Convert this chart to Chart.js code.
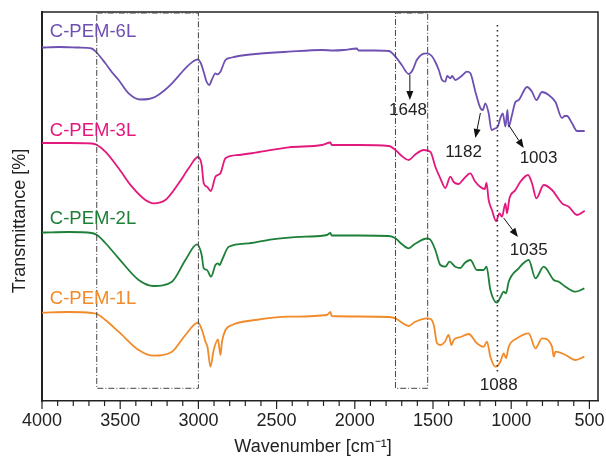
<!DOCTYPE html>
<html>
<head>
<meta charset="utf-8">
<script src="https://cdn.jsdelivr.net/npm/chart.js@4.4.1/dist/chart.umd.min.js"></script>
<style>
  html, body { margin: 0; padding: 0; background: #fff; }
</style>
</head>
<body>
<canvas id="chart" width="606" height="458"></canvas>
<script>
// FTIR spectra, transmittance in arbitrary units (curves offset vertically)
const seriesNames = ["C-PEM-6L", "C-PEM-3L", "C-PEM-2L", "C-PEM-1L"];
const seriesColors = ["#6d50b2", "#e2187c", "#1d7f38", "#f18a28"];

const wn6L = [4000, 3893, 3765, 3682, 3648, 3595, 3554, 3510, 3446, 3371, 3318, 3275, 3222, 3169, 3083, 3030, 3003, 2985, 2966, 2947, 2930, 2915, 2891, 2881, 2859, 2827, 2787, 2742, 2635, 2423, 2210, 2135, 2071, 1988, 1975, 1879, 1783, 1740, 1700, 1655, 1630, 1604, 1572, 1538, 1508, 1485, 1463, 1442, 1421, 1410, 1389, 1378, 1357, 1336, 1310, 1283, 1261, 1229, 1197, 1182, 1165, 1144, 1126, 1101, 1086, 1069, 1054, 1037, 1024, 1016, 995, 973, 952, 899, 867, 839, 803, 760, 717, 675, 658, 643, 611, 579, 530];
const t6L = [353.5, 354, 353.5, 352.5, 348, 337.7, 329, 321, 307.7, 301.5, 302, 304.3, 310, 317.7, 332.7, 340, 341.7, 338, 329, 319, 316, 321, 327.7, 326.7, 329.3, 341, 343.5, 345, 347, 349.3, 351, 350.5, 351, 352.5, 350.5, 350.5, 350, 344.3, 336, 327, 331, 341, 346.5, 347.7, 345, 339, 331, 321, 319.3, 325, 322.7, 325, 321, 322.7, 326, 329.3, 327.7, 309.3, 293, 291, 297.7, 287.7, 271, 272.7, 274.3, 283, 287.7, 274.3, 291, 274.3, 286, 299, 301, 314, 309.3, 301, 309, 306, 299, 283, 285, 285, 277.7, 270, 270];

const wn3L = [4000, 3829, 3682, 3648, 3595, 3510, 3425, 3339, 3286, 3211, 3126, 3062, 3003, 2979, 2966, 2945, 2921, 2891, 2877, 2859, 2827, 2742, 2635, 2423, 2210, 2156, 2148, 1975, 1783, 1740, 1700, 1655, 1617, 1559, 1517, 1485, 1453, 1421, 1389, 1368, 1336, 1310, 1261, 1233, 1197, 1169, 1158, 1144, 1123, 1097, 1075, 1059, 1037, 1027, 1011, 973, 941, 892, 867, 839, 792, 739, 675, 632, 579, 530];
const t3L = [258, 258, 257.5, 256, 249.3, 232.7, 214.3, 201, 197.7, 201, 217.7, 232.7, 244, 236, 217.7, 214.3, 210, 224.3, 226, 227.7, 242.7, 246, 248.3, 253.7, 256, 258.5, 256, 256, 255, 251, 245, 241, 246, 251, 249.3, 234.3, 222.7, 213, 224.3, 219, 217, 221, 227.7, 220, 214, 212, 218, 201, 191, 180, 187.7, 184.3, 197.7, 187.7, 202.7, 211, 219.3, 226, 217.7, 202.7, 216, 211, 197.7, 194.3, 186, 190.3];

const wn2L = [4000, 3829, 3682, 3648, 3595, 3510, 3382, 3286, 3169, 3083, 3009, 2979, 2966, 2945, 2919, 2891, 2875, 2864, 2849, 2806, 2678, 2529, 2316, 2178, 2156, 2148, 1975, 1783, 1740, 1700, 1655, 1617, 1538, 1515, 1485, 1453, 1421, 1395, 1357, 1325, 1297, 1261, 1219, 1176, 1158, 1133, 1091, 1069, 1048, 1033, 1016, 952, 888, 845, 792, 728, 696, 653, 589, 532];
const t2L = [168.5, 169, 168, 166, 158, 142.7, 121, 115, 119.3, 141, 156.7, 146, 132.7, 131, 124.3, 136, 137.7, 136, 141, 154.3, 157.7, 161.7, 164.3, 166, 168, 165.5, 165.5, 165, 162.7, 157, 152.7, 157, 162.5, 161, 151, 136, 134.3, 139.3, 134.3, 133, 138, 141, 131, 131, 134.3, 111, 98.3, 103.7, 109.3, 107.7, 119.3, 132.7, 141, 122.7, 134.3, 121, 119.3, 114.3, 109.3, 112.7];

const wn1L = [4000, 3829, 3682, 3648, 3595, 3510, 3382, 3286, 3169, 3083, 3003, 2977, 2955, 2942, 2923, 2902, 2875, 2859, 2849, 2827, 2785, 2635, 2423, 2178, 2156, 2148, 1975, 1783, 1740, 1700, 1655, 1617, 1538, 1515, 1495, 1474, 1453, 1425, 1400, 1382, 1368, 1323, 1272, 1219, 1176, 1155, 1133, 1101, 1069, 1048, 1033, 1016, 963, 888, 845, 803, 739, 728, 717, 653, 589, 532];
const t1L = [88.3, 89, 88, 87, 81, 69.3, 51, 45.3, 49.3, 66, 78.3, 71, 59.3, 54.3, 34.3, 51, 61.7, 46, 59.3, 71, 76, 81, 84.3, 86, 89, 85, 84.5, 84, 82.7, 78.5, 75, 79, 82.7, 82, 76, 57.7, 56, 59, 66, 56, 61, 64, 67, 57.7, 54.3, 59.3, 44.3, 34.3, 39.3, 47.7, 42.7, 54.3, 62.7, 67.7, 52.7, 62.7, 54.3, 44.3, 49.3, 46, 41, 44.3];

const xTicks = [4000, 3500, 3000, 2500, 2000, 1500, 1000, 500];

// where the series names sit
const nameWn = 3950;
const nameT = [369, 270, 182, 102];

// band annotations
const peakLabels = ["1648", "1182", "1003", "1035", "1088"];
const peakTextWn = [1660, 1304, 825, 888, 1080];
const peakTextT = [291, 249, 243, 151, 16];
const arrowFromWn = [1648, 1197, 1016, 1048];
const arrowFromT = [326, 288, 276, 183];
const arrowToWn = [1648, 1229, 920, 957];
const arrowToT = [301, 263, 253, 164];

const boxWn = [[3650, 3000], [1740, 1534]];
const boxT = [12.7, 388];
const dotWn = 1088;
const dotT = [29, 376];

const FONT = '"Liberation Sans", Arial, sans-serif';

function toPoints(xs, ys) {
  return xs.map((v, i) => ({ x: v, y: ys[i] }));
}

const datasets = [[wn6L, t6L], [wn3L, t3L], [wn2L, t2L], [wn1L, t1L]].map((d, i) => ({
  label: seriesNames[i],
  data: toPoints(d[0], d[1]),
  borderColor: seriesColors[i],
  borderWidth: 1.8,
  pointRadius: 0,
  cubicInterpolationMode: "monotone",
  fill: false,
}));

function drawArrow(ctx, x1, y1, x2, y2) {
  const ang = Math.atan2(y2 - y1, x2 - x1);
  const hl = 9, hw = 3.5;
  const bx = x2 - hl * Math.cos(ang), by = y2 - hl * Math.sin(ang);
  ctx.beginPath();
  ctx.moveTo(x1, y1);
  ctx.lineTo(bx, by);
  ctx.stroke();
  ctx.beginPath();
  ctx.moveTo(x2, y2);
  ctx.lineTo(bx + hw * Math.sin(ang), by - hw * Math.cos(ang));
  ctx.lineTo(bx - hw * Math.sin(ang), by + hw * Math.cos(ang));
  ctx.closePath();
  ctx.fill();
}

const overlay = {
  id: "overlay",
  afterDraw(chart) {
    const { ctx, chartArea: a, scales: { x, y } } = chart;
    ctx.save();

    // frame: top and right
    ctx.strokeStyle = "#222";
    ctx.lineWidth = 1.5;
    ctx.beginPath();
    ctx.moveTo(a.left, a.top);
    ctx.lineTo(a.right, a.top);
    ctx.lineTo(a.right, a.bottom);
    ctx.stroke();

    // x ticks, outward
    ctx.lineWidth = 1.2;
    for (let w = 500; w <= 4000; w += 100) {
      const px = x.getPixelForValue(w);
      const len = w % 500 === 0 ? 8 : 5;
      ctx.beginPath();
      ctx.moveTo(px, a.bottom);
      ctx.lineTo(px, a.bottom + len);
      ctx.stroke();
    }

    // dash-dot boxes
    ctx.strokeStyle = "#444";
    ctx.lineWidth = 1;
    ctx.setLineDash([6, 2, 1, 2]);
    boxWn.forEach((b) => {
      const x1 = x.getPixelForValue(b[0]), x2 = x.getPixelForValue(b[1]);
      const y1 = y.getPixelForValue(boxT[1]), y2 = y.getPixelForValue(boxT[0]);
      ctx.strokeRect(x1, y1, x2 - x1, y2 - y1);
    });

    // dotted marker line
    ctx.strokeStyle = "#333";
    ctx.lineWidth = 1.6;
    ctx.setLineDash([1.6, 3.4]);
    const dx = x.getPixelForValue(dotWn);
    ctx.beginPath();
    ctx.moveTo(dx, y.getPixelForValue(dotT[1]));
    ctx.lineTo(dx, y.getPixelForValue(dotT[0]));
    ctx.stroke();
    ctx.setLineDash([]);

    // arrows
    ctx.strokeStyle = "#111";
    ctx.fillStyle = "#111";
    ctx.lineWidth = 1;
    arrowFromWn.forEach((w, i) => {
      drawArrow(ctx,
        x.getPixelForValue(w), y.getPixelForValue(arrowFromT[i]),
        x.getPixelForValue(arrowToWn[i]), y.getPixelForValue(arrowToT[i]));
    });

    // peak labels
    ctx.font = "17px " + FONT;
    ctx.fillStyle = "#222";
    ctx.textAlign = "center";
    ctx.textBaseline = "middle";
    peakLabels.forEach((t, i) => {
      ctx.fillText(t, x.getPixelForValue(peakTextWn[i]), y.getPixelForValue(peakTextT[i]));
    });

    // series names
    ctx.font = "18.5px " + FONT;
    ctx.textAlign = "left";
    seriesNames.forEach((n, i) => {
      ctx.fillStyle = seriesColors[i];
      ctx.fillText(n, x.getPixelForValue(nameWn), y.getPixelForValue(nameT[i]));
    });

    // axis titles
    ctx.font = "18px " + FONT;
    ctx.fillStyle = "#222";
    ctx.textAlign = "center";
    ctx.fillText("Wavenumber [cm\u207B\u00B9]", 313, 447);
    ctx.translate(20, 221);
    ctx.rotate(-Math.PI / 2);
    ctx.fillText("Transmittance [%]", 0, 0);

    ctx.restore();
  },
};

new Chart(document.getElementById("chart"), {
  type: "line",
  data: { datasets },
  options: {
    responsive: false,
    animation: false,
    layout: { padding: { top: 12, right: 8, left: 0, bottom: 0 } },
    plugins: { legend: { display: false }, tooltip: { enabled: false } },
    scales: {
      x: {
        type: "linear",
        reverse: true,
        min: 445,
        max: 4000,
        afterFit: (s) => {
          s.height = 57;
          s.paddingLeft = 0;
          s.paddingRight = 0;
        },
        afterBuildTicks: (s) => { s.ticks = xTicks.map((v) => ({ value: v })); },
        ticks: {
          autoSkip: false,
          maxRotation: 0,
          padding: 9,
          color: "#222",
          font: { family: FONT, size: 18 },
          callback: (v) => String(v),
        },
        grid: { drawOnChartArea: false, drawTicks: false },
        border: { display: true, color: "#222", width: 1.5 },
      },
      y: {
        min: 0,
        max: 389,
        afterFit: (s) => { s.width = 42; },
        ticks: { display: false },
        grid: { drawOnChartArea: false, drawTicks: false },
        border: { display: true, color: "#222", width: 2 },
      },
    },
  },
  plugins: [overlay],
});
</script>
</body>
</html>
